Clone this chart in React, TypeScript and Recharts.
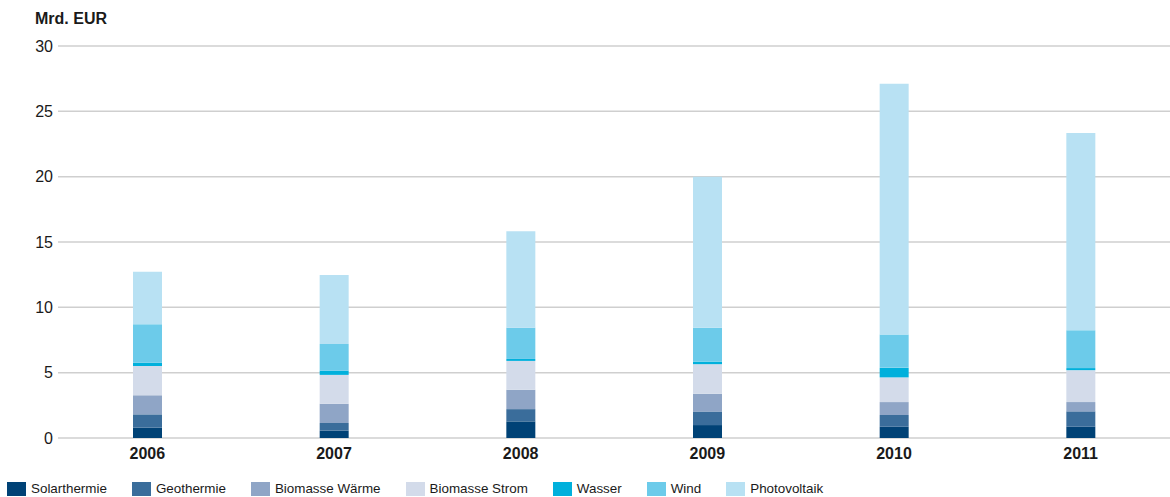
import React from "react";
import { BarChart, Bar, XAxis, YAxis, CartesianGrid } from "recharts";

const years = ["2006", "2007", "2008", "2009", "2010", "2011"];
const solarthermie = [0.79, 0.56, 1.27, 0.99, 0.86, 0.86];
const geothermie = [1.02, 0.59, 0.94, 1.04, 0.9, 1.18];
const biomasseWaerme = [1.46, 1.47, 1.48, 1.35, 0.99, 0.71];
const biomasseStrom = [2.24, 2.21, 2.21, 2.27, 1.89, 2.44];
const wasser = [0.25, 0.33, 0.15, 0.2, 0.73, 0.16];
const wind = [2.94, 2.04, 2.39, 2.59, 2.55, 2.9];
const photovoltaik = [4.02, 5.27, 7.38, 11.56, 19.2, 15.1];
const yTicks = [0, 5, 10, 15, 20, 25, 30];

const seriesNames = ["Solarthermie", "Geothermie", "Biomasse Wärme", "Biomasse Strom", "Wasser", "Wind", "Photovoltaik"];
const seriesValues = [solarthermie, geothermie, biomasseWaerme, biomasseStrom, wasser, wind, photovoltaik];
const seriesColors = ["#004276", "#3a6d9b", "#8fa5c6", "#d3dbea", "#00b0dc", "#6ccbea", "#b8e1f3"];

const data = years.map((y, i) => {
  const row: Record<string, string | number> = { year: y };
  seriesNames.forEach((n, k) => {
    row[n] = seriesValues[k][i];
  });
  return row;
});

const axisFont = "'Liberation Sans', Arial, sans-serif";
const legendFont = "'Liberation Sans', Arial, sans-serif";

export default function App() {
  return (
    <div style={{ position: "absolute", left: 0, top: 0, width: 1170, height: 497, background: "#fff" }}>
      <div
        style={{
          position: "absolute",
          left: 35,
          top: 10,
          fontFamily: axisFont,
          fontWeight: 700,
          fontSize: 16,
          color: "#1a1a1a",
        }}
      >
        Mrd. EUR
      </div>
      <BarChart
        width={1170}
        height={470}
        data={data}
        margin={{ top: 46, right: 0, bottom: 0, left: 0 }}
        barSize={29}
      >
        <CartesianGrid horizontal vertical={false} stroke="#cfcfcf" strokeWidth={1.5} />
        <XAxis
          dataKey="year"
          axisLine={false}
          tickLine={false}
          height={32}
          padding={{ left: -4, right: -4 }}
          tickMargin={4}
          tick={{ fontFamily: axisFont, fontWeight: 700, fontSize: 16, fill: "#1a1a1a" }}
        />
        <YAxis
          domain={[0, 30]}
          ticks={yTicks}
          width={58}
          axisLine={false}
          tickLine={false}
          tickSize={0}
          tickMargin={5}
          tick={{ fontFamily: axisFont, fontSize: 16, fill: "#1a1a1a" }}
        />
        {seriesNames.map((n, k) => (
          <Bar key={n} dataKey={n} stackId="a" fill={seriesColors[k]} isAnimationActive={false} />
        ))}
      </BarChart>
      <div
        style={{
          position: "absolute",
          left: 7,
          top: 482,
          display: "flex",
          alignItems: "center",
          fontFamily: legendFont,
          fontSize: 13.4,
          color: "#1a1a1a",
          whiteSpace: "nowrap",
        }}
      >
        {seriesNames.map((n, k) => (
          <div key={n} style={{ display: "flex", alignItems: "center", marginRight: 25 }}>
            <div style={{ width: 19, height: 14, background: seriesColors[k], marginRight: 5 }} />
            <span style={{ lineHeight: "14px" }}>{n}</span>
          </div>
        ))}
      </div>
    </div>
  );
}
